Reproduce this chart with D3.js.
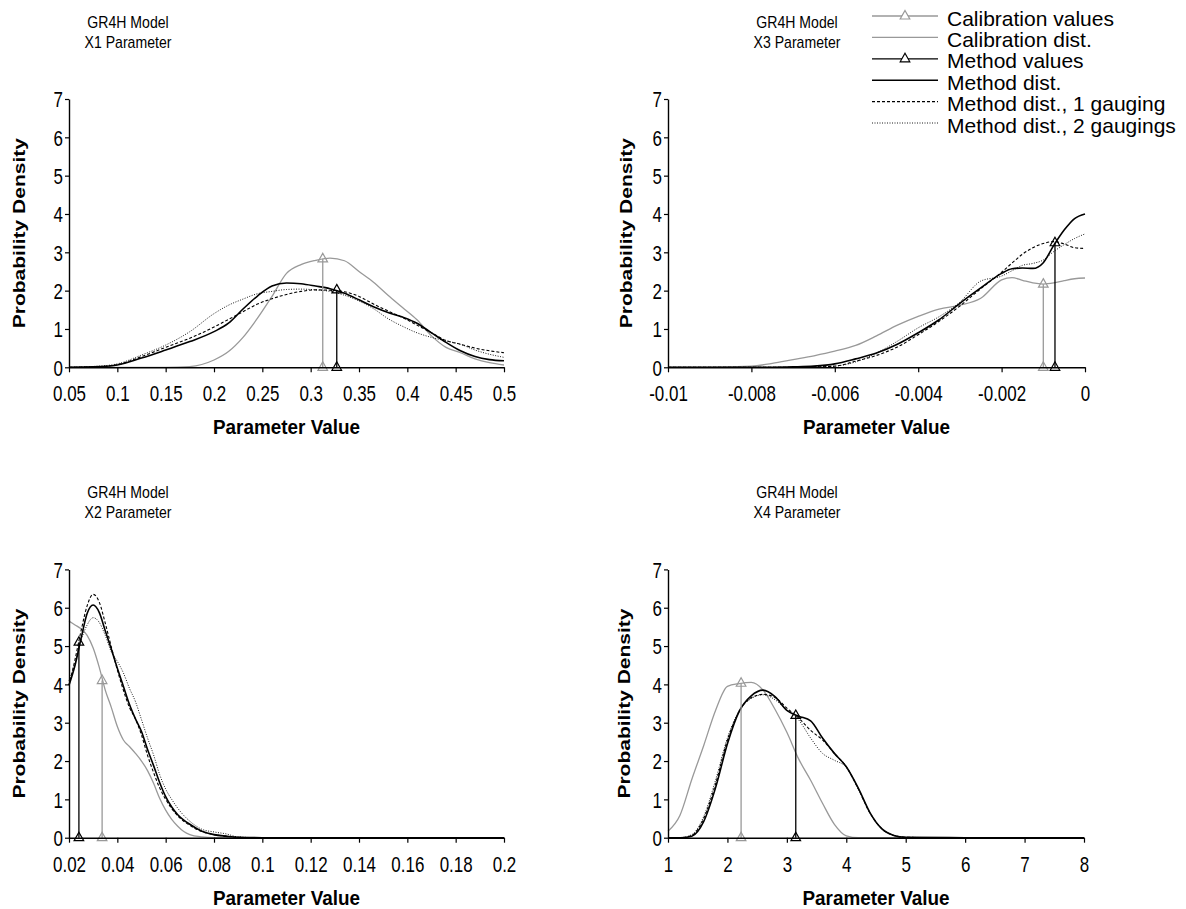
<!DOCTYPE html>
<html>
<head>
<meta charset="utf-8">
<script src="https://cdnjs.cloudflare.com/ajax/libs/d3/7.8.5/d3.min.js"></script>
<style>
  body { margin: 0; background: #fff; }
  svg { font-family: "Liberation Sans", Arial, Helvetica, sans-serif; }
</style>
</head>
<body>
<svg id="chart" width="1186" height="909"></svg>
<script>
// GR4H model, X1 parameter
var x1Grid = [0.05, 0.075, 0.1, 0.125, 0.15, 0.175, 0.2, 0.215, 0.23, 0.245, 0.26, 0.275, 0.29, 0.305, 0.32, 0.335, 0.35, 0.365, 0.38, 0.395, 0.41, 0.425, 0.44, 0.455, 0.47, 0.485, 0.5];
var x1CalDist = [0, 0, 0, 0, 0, 0.02, 0.19, 0.41, 0.78, 1.28, 1.85, 2.45, 2.68, 2.79, 2.85, 2.78, 2.5, 2.22, 1.88, 1.56, 1.24, 0.82, 0.52, 0.38, 0.22, 0.12, 0.06];
var x1MethodDist = [0, 0.01, 0.06, 0.24, 0.45, 0.67, 0.93, 1.15, 1.52, 1.86, 2.12, 2.2, 2.18, 2.12, 2.05, 1.93, 1.76, 1.58, 1.43, 1.31, 1.15, 0.9, 0.65, 0.43, 0.28, 0.2, 0.17];
var x1Gauging1 = [0, 0.01, 0.07, 0.28, 0.52, 0.76, 1.05, 1.25, 1.45, 1.65, 1.79, 1.9, 1.98, 2.02, 2.01, 1.97, 1.85, 1.65, 1.47, 1.3, 1.1, 0.9, 0.7, 0.6, 0.5, 0.43, 0.38];
var x1Gauging2 = [0, 0.02, 0.09, 0.32, 0.58, 0.93, 1.4, 1.62, 1.78, 1.92, 1.98, 2.03, 2.04, 2.02, 1.98, 1.88, 1.73, 1.53, 1.27, 1.07, 0.9, 0.78, 0.69, 0.6, 0.45, 0.34, 0.26];
var x1CalValue = [0.3125, 2.83];
var x1MethodValue = [0.327, 2.02];
var x1Ticks = [0.05, 0.1, 0.15, 0.2, 0.25, 0.3, 0.35, 0.4, 0.45, 0.5];

// GR4H model, X3 parameter
var x3Grid = [-0.01, -0.009, -0.008, -0.0075, -0.007, -0.0065, -0.006, -0.0055, -0.005, -0.0045, -0.004, -0.0035, -0.003, -0.0025, -0.002, -0.00175, -0.0015, -0.00125, -0.001, -0.00075, -0.0005, -0.00025, 0];
var x3CalDist = [0, 0, 0.03, 0.1, 0.2, 0.3, 0.42, 0.57, 0.82, 1.1, 1.33, 1.52, 1.62, 1.8, 2.28, 2.34, 2.27, 2.2, 2.17, 2.2, 2.26, 2.31, 2.33];
var x3MethodDist = [0, 0, 0, 0, 0.01, 0.03, 0.09, 0.22, 0.37, 0.6, 0.9, 1.24, 1.67, 2.07, 2.45, 2.57, 2.59, 2.58, 2.73, 3.18, 3.58, 3.88, 4.0];
var x3Gauging1 = [0, 0, 0, 0, 0, 0.01, 0.03, 0.16, 0.31, 0.53, 0.85, 1.2, 1.6, 2.05, 2.48, 2.72, 2.95, 3.12, 3.23, 3.28, 3.22, 3.12, 3.1];
var x3Gauging2 = [0, 0, 0, 0, 0, 0.01, 0.03, 0.14, 0.37, 0.68, 1.03, 1.32, 1.7, 2.25, 2.38, 2.52, 2.66, 2.71, 2.8, 3.02, 3.2, 3.36, 3.48];
var x3CalValue = [-0.001, 2.17];
var x3MethodValue = [-0.00072, 3.25];
var x3Ticks = [-0.01, -0.008, -0.006, -0.004, -0.002, 0];

// GR4H model, X2 parameter
var x2Grid = [0.02, 0.0225, 0.025, 0.0275, 0.03, 0.0325, 0.035, 0.0375, 0.04, 0.0425, 0.045, 0.0475, 0.05, 0.0525, 0.055, 0.0575, 0.06, 0.0625, 0.065, 0.0675, 0.07, 0.075, 0.08, 0.085, 0.09, 0.1, 0.2];
var x2CalDist = [5.65, 5.55, 5.45, 5.28, 4.95, 4.45, 3.85, 3.4, 2.9, 2.55, 2.38, 2.2, 2.0, 1.75, 1.42, 1.03, 0.72, 0.48, 0.3, 0.16, 0.08, 0.02, 0, 0, 0, 0, 0];
var x2MethodDist = [3.98, 4.5, 5.2, 5.85, 6.07, 5.88, 5.4, 4.92, 4.42, 3.95, 3.48, 3.1, 2.77, 2.3, 1.88, 1.44, 1.07, 0.8, 0.6, 0.46, 0.35, 0.17, 0.08, 0.04, 0.01, 0, 0];
var x2Gauging1 = [3.98, 4.65, 5.4, 6.05, 6.35, 6.15, 5.6, 4.98, 4.38, 3.85, 3.4, 3.1, 2.68, 2.15, 1.7, 1.3, 1.0, 0.76, 0.57, 0.43, 0.32, 0.16, 0.08, 0.04, 0.01, 0, 0];
var x2Gauging2 = [4.1, 4.55, 5.15, 5.55, 5.74, 5.62, 5.28, 4.85, 4.6, 4.3, 3.9, 3.55, 3.08, 2.6, 2.16, 1.65, 1.27, 1.0, 0.77, 0.58, 0.43, 0.22, 0.15, 0.1, 0.02, 0, 0];
var x2CalValue = [0.0337, 4.1];
var x2MethodValue = [0.0241, 5.1];
var x2Ticks = [0.02, 0.04, 0.06, 0.08, 0.1, 0.12, 0.14, 0.16, 0.18, 0.2];

// GR4H model, X4 parameter
var x4Grid = [1, 1.2, 1.4, 1.6, 1.8, 2.0, 2.2, 2.4, 2.6, 2.8, 3.0, 3.2, 3.4, 3.6, 3.8, 4.0, 4.2, 4.4, 4.6, 4.8, 5.0, 6, 7, 8];
var x4CalDist = [0.17, 0.58, 1.52, 2.4, 3.32, 3.95, 4.02, 4.05, 3.85, 3.35, 2.75, 2.05, 1.5, 0.9, 0.35, 0.05, 0, 0, 0, 0, 0, 0, 0, 0];
var x4MethodDist = [0, 0, 0.04, 0.42, 1.3, 2.45, 3.3, 3.7, 3.85, 3.68, 3.32, 3.17, 3.05, 2.6, 2.2, 1.85, 1.3, 0.65, 0.23, 0.06, 0.01, 0, 0, 0];
var x4Gauging1 = [0, 0, 0.06, 0.5, 1.4, 2.55, 3.3, 3.65, 3.74, 3.66, 3.38, 3.12, 2.8, 2.55, 2.2, 1.85, 1.28, 0.64, 0.23, 0.06, 0.01, 0, 0, 0];
var x4Gauging2 = [0, 0, 0.08, 0.55, 1.5, 2.6, 3.32, 3.63, 3.73, 3.6, 3.33, 3.07, 2.6, 2.2, 2.02, 1.84, 1.28, 0.64, 0.23, 0.06, 0.01, 0, 0, 0];
var x4CalValue = [2.23, 4.03];
var x4MethodValue = [3.15, 3.19];
var x4Ticks = [1, 2, 3, 4, 5, 6, 7, 8];

var yTicks = [0, 1, 2, 3, 4, 5, 6, 7];
var legendLabels = ['Calibration values', 'Calibration dist.', 'Method values', 'Method dist.', 'Method dist., 1 gauging', 'Method dist., 2 gaugings'];

var grey = '#999999';
var svg = d3.select('#chart');

// Line styles for the distribution series and the value markers
var styles = {
  calValue: { stroke: grey, width: 1.3, dash: null, marker: true },
  calDist: { stroke: grey, width: 1.3, dash: null },
  methValue: { stroke: '#000', width: 1.3, dash: null, marker: true },
  methDist: { stroke: '#000', width: 1.6, dash: null },
  gauge1: { stroke: '#000', width: 1.1, dash: '3,2' },
  gauge2: { stroke: '#000', width: 0.9, dash: '1,1.5' }
};

// The figure's lettering is narrow, so texts get a horizontal squeeze
var tickSize = 22, tickSqueeze = 0.77;
var triPath = 'M0,-5.5L4.8,3L-4.8,3Z';

function label(parent, x, y, str, size, sx, bold, anchor) {
  return parent.append('text').
  attr('transform', 'translate(' + x + ',' + y + ') scale(' + sx + ',1)').
  attr('text-anchor', anchor || 'middle').
  style('font-size', size + 'px').
  style('font-weight', bold ? 'bold' : 'normal').
  text(str);
}

function drawPanel(p) {
  var x = d3.scaleLinear().
  domain([p.ticks[0], p.ticks[p.ticks.length - 1]]).
  range([p.left, p.right]);

  var y = d3.scaleLinear().
  domain([0, 7]).
  range([p.bottom, p.top]);

  var g = svg.append('g');

  var line = d3.line().
  x(function (d) { return x(d[0]); }).
  y(function (d) { return y(d[1]); }).
  curve(d3.curveMonotoneX);

  // Distribution curves
  var series = [
    { vals: p.cal, st: styles.calDist },
    { vals: p.g2, st: styles.gauge2 },
    { vals: p.g1, st: styles.gauge1 },
    { vals: p.meth, st: styles.methDist }
  ];
  series.forEach(function (s) {
    var pts = p.grid.map(function (v, i) { return [v, s.vals[i]]; });
    g.append('path').
    datum(pts).
    attr('d', line).
    attr('fill', 'none').
    attr('stroke', s.st.stroke).
    attr('stroke-width', s.st.width).
    attr('stroke-dasharray', s.st.dash);
  });

  // Calibration and method values: vertical line with a triangle at each end
  [[p.calValue, styles.calValue], [p.methValue, styles.methValue]].forEach(function (m) {
    var pts = [[m[0][0], 0], [m[0][0], m[0][1]]];
    g.append('path').
    datum(pts).
    attr('d', d3.line().x(function (d) { return x(d[0]); }).y(function (d) { return y(d[1]); })).
    attr('stroke', m[1].stroke).
    attr('stroke-width', m[1].width);
    g.selectAll(null).
    data(pts).
    enter().
    append('path').
    attr('d', triPath).
    attr('transform', function (d) { return 'translate(' + x(d[0]) + ',' + y(d[1]) + ')'; }).
    attr('fill', 'none').
    attr('stroke', m[1].stroke).
    attr('stroke-width', 1.2);
  });

  // Axes
  var xAxis = d3.axisBottom(x).
  tickValues(p.ticks).
  tickFormat(function (d) { return String(d); }).
  tickSize(5).
  tickSizeOuter(0);

  var yAxis = d3.axisLeft(y).
  tickValues(yTicks).
  tickFormat(function (d) { return String(d); }).
  tickSize(4).
  tickSizeOuter(0);

  var xg = g.append('g').
  attr('transform', 'translate(0,' + p.bottom + ')').
  call(xAxis);

  var yg = g.append('g').
  attr('transform', 'translate(' + p.left + ',0)').
  call(yAxis);

  [xg, yg].forEach(function (a) {
    a.select('.domain').attr('stroke', '#000').attr('stroke-width', 1.4);
    a.selectAll('.tick line').attr('stroke', '#000').attr('stroke-width', 1.2);
    a.selectAll('.tick text').
    attr('fill', '#000').
    style('font-family', '"Liberation Sans", Arial, sans-serif').
    style('font-size', tickSize + 'px');
  });

  xg.selectAll('.tick text').
  attr('y', 34).
  attr('dy', null).
  attr('transform', 'scale(' + tickSqueeze + ',1)');

  yg.selectAll('.tick text').
  attr('x', -6 / tickSqueeze).
  attr('dy', '0.36em').
  attr('transform', 'scale(' + tickSqueeze + ',1)');

  // Titles
  label(g, p.titleX, p.titleY, 'GR4H Model', 16, 0.88, false);
  label(g, p.titleX, p.titleY + 20, p.title, 16, 0.88, false);

  g.append('text').
  attr('transform', 'translate(' + p.yLabelX + ',' + (p.top + p.bottom) / 2 + ') rotate(-90) scale(1,0.8)').
  attr('text-anchor', 'middle').
  attr('dy', '0.35em').
  style('font-size', '21px').
  style('font-weight', 'bold').
  text('Probability Density');

  label(g, (p.left + p.right) / 2, p.bottom + 67, 'Parameter Value', 21, 0.9, true);
}

drawPanel({ title: 'X1 Parameter', grid: x1Grid, cal: x1CalDist, meth: x1MethodDist, g1: x1Gauging1, g2: x1Gauging2,
  calValue: x1CalValue, methValue: x1MethodValue, ticks: x1Ticks,
  left: 69, right: 504, top: 99, bottom: 367.3, titleX: 128, titleY: 28, yLabelX: 19 });

drawPanel({ title: 'X3 Parameter', grid: x3Grid, cal: x3CalDist, meth: x3MethodDist, g1: x3Gauging1, g2: x3Gauging2,
  calValue: x3CalValue, methValue: x3MethodValue, ticks: x3Ticks,
  left: 668, right: 1085, top: 99, bottom: 367.3, titleX: 797, titleY: 28, yLabelX: 626 });

drawPanel({ title: 'X2 Parameter', grid: x2Grid, cal: x2CalDist, meth: x2MethodDist, g1: x2Gauging1, g2: x2Gauging2,
  calValue: x2CalValue, methValue: x2MethodValue, ticks: x2Ticks,
  left: 69, right: 504, top: 569.4, bottom: 837.7, titleX: 128, titleY: 498, yLabelX: 19 });

drawPanel({ title: 'X4 Parameter', grid: x4Grid, cal: x4CalDist, meth: x4MethodDist, g1: x4Gauging1, g2: x4Gauging2,
  calValue: x4CalValue, methValue: x4MethodValue, ticks: x4Ticks,
  left: 668, right: 1084, top: 569.4, bottom: 837.7, titleX: 797, titleY: 498, yLabelX: 624 });

// Legend (top right)
var legendKeys = ['calValue', 'calDist', 'methValue', 'methDist', 'gauge1', 'gauge2'];
var legend = svg.append('g').attr('transform', 'translate(872,18)');
legendKeys.forEach(function (k, i) {
  var st = styles[k];
  var row = legend.append('g').attr('transform', 'translate(0,' + i * 21.4 + ')');
  row.append('line').
  attr('x1', 0).attr('x2', 66).attr('y1', -2).attr('y2', -2).
  attr('stroke', st.stroke).
  attr('stroke-width', st.width).
  attr('stroke-dasharray', st.dash);
  if (st.marker) {
    row.append('path').
    attr('d', triPath).
    attr('transform', 'translate(33,-2)').
    attr('fill', '#fff').
    attr('stroke', st.stroke).
    attr('stroke-width', 1.2);
  }
  row.append('text').
  attr('x', 75).
  attr('y', 0).
  attr('dy', '0.36em').
  style('font-size', '21px').
  text(legendLabels[i]);
});
</script>
</body>
</html>
